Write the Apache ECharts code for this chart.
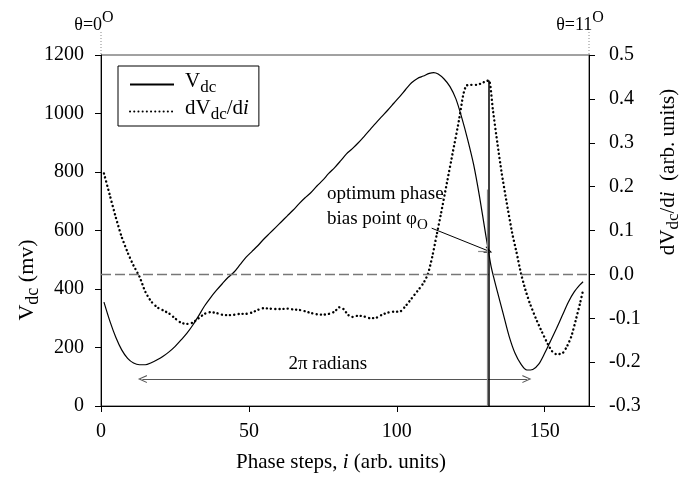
<!DOCTYPE html>
<html><head><meta charset="utf-8">
<script src="https://cdn.jsdelivr.net/npm/echarts@6/dist/echarts.min.js"></script>
<style>html,body{margin:0;padding:0;background:#fff}#c{width:680px;height:481px}</style>
</head><body><div id="c"></div>
<script>
// Phase step index and V_dc (mV)
const vdcX = [1,3,5,7,9,11,13,15,17,19,21,23,25,27,29,31,33,35,37,39,41,43,45,47,49,51,53,55,57,59,61,63,65,67,69,71,73,75,77,79,81,83,85,87,89,91,93,95,97,99,101,103,105,107,109,111,112.5,114,116,118,120,122,124,126,128,130,131,132,134,136,138,140,142,144,146,148,150,152,154,156,158,160,162,163];
const vdcY = [355,290,235,192,163,147,141,141,148,158,170,185,203,225,248,276,308,342,370,395,418,440,458,483,508,528,548,570,590,610,630,650,670,692,712,730,752,772,795,815,838,862,880,900,922,945,968,990,1012,1035,1058,1082,1105,1120,1128,1137,1140,1135,1118,1092,1050,985,910,825,715,590,530,472,392,315,238,180,143,123,125,143,180,222,265,310,355,390,415,425];
// Phase step index and dVdc/di (arb. units)
const dvX = [1,3,5,7,9,11,13,15,17,19,21,23,25,27,29,31,33,35,37,39,41,43,45,47,49,51,53,55,57,59,61,63,65,67,69,71,73,75,77,79,80.5,82,83.5,85,87,89,91,93,95,97,99,101,103,105,107,109,110.5,112,113.5,115,117,119,121,122.5,123.5,125,127,128.5,130,131.2,132.5,134,135.5,137,139,140.5,142,143.5,145,147,149,151,152.5,154,156,157.5,159,160.5,162,163];
const dvY = [0.23,0.18,0.13,0.085,0.05,0.02,-0.005,-0.04,-0.062,-0.075,-0.082,-0.089,-0.1,-0.11,-0.113,-0.11,-0.1,-0.09,-0.086,-0.088,-0.092,-0.093,-0.092,-0.09,-0.09,-0.087,-0.081,-0.077,-0.078,-0.079,-0.079,-0.078,-0.08,-0.081,-0.084,-0.088,-0.091,-0.092,-0.09,-0.085,-0.075,-0.079,-0.092,-0.097,-0.094,-0.096,-0.1,-0.099,-0.092,-0.087,-0.085,-0.085,-0.072,-0.055,-0.038,-0.02,0.0,0.04,0.09,0.14,0.21,0.28,0.35,0.41,0.43,0.432,0.432,0.435,0.44,0.442,0.375,0.3,0.23,0.17,0.095,0.05,0.002,-0.035,-0.066,-0.1,-0.13,-0.158,-0.175,-0.182,-0.18,-0.165,-0.142,-0.105,-0.065,-0.036];
const xTickLabels = [0, 50, 100, 150];
const leftTickLabels = [0, 200, 400, 600, 800, 1000, 1200];
const rightTickLabels = ['-0.3','-0.2','-0.1','0.0','0.1','0.2','0.3','0.4','0.5'];

const FONT = "'Liberation Serif','Times New Roman',serif";
const chevron = 'path://M0,10 L5,0 L10,10 L8.6,10 L5,2.8 L1.4,10 Z';
const chart = echarts.init(document.getElementById('c'), null, {renderer: 'canvas'});

const axisCommon = {
  axisLine: {show: true, onZero: false, lineStyle: {color: '#000', width: 1}},
  axisTick: {show: true, length: 6, lineStyle: {color: '#000', width: 1}},
  splitLine: {show: false}
};
const lblStyle = {fontSize: 20, color: '#000', fontFamily: FONT};

chart.setOption({
  animation: false,
  textStyle: {fontFamily: FONT},
  grid: {left: 101, right: 91, top: 55, bottom: 75, show: true, borderColor: '#444', borderWidth: 1},
  legend: {
    left: 118, top: 66, orient: 'vertical',
    borderColor: '#000', borderWidth: 1, borderRadius: 0,
    padding: [5, 10, 3, 11], itemGap: 2, itemWidth: 44, itemHeight: 12,
    itemStyle: {opacity: 0},
    data: ['Vdc', 'dVdc/di'],
    formatter: n => n === 'Vdc' ? '{p|V}{b|dc}' : '{p|dV}{b|dc}{a|/d}{i|i}',
    textStyle: {color: '#000', fontFamily: FONT, rich: {
      p: {fontSize: 21, fontFamily: FONT, padding: [0, 0, 6, 6]},
      a: {fontSize: 21, fontFamily: FONT, padding: [0, 0, 6, 0]},
      b: {fontSize: 17, fontFamily: FONT, padding: [6, 0, 0, 0]},
      i: {fontSize: 21, fontFamily: FONT, fontStyle: 'italic', padding: [0, 0, 6, 0]}
    }}
  },
  xAxis: Object.assign({
    type: 'value', min: 0, max: 165, interval: 50,
    axisLabel: Object.assign({margin: 16, showMaxLabel: false,
      formatter: v => xTickLabels.includes(v) ? String(v) : ''}, lblStyle)
  }, axisCommon),
  yAxis: [
    Object.assign({type: 'value', min: 0, max: 1200, interval: 200, position: 'left',
      axisLabel: Object.assign({margin: 17, formatter: v => leftTickLabels.includes(v) ? String(v) : ''}, lblStyle)}, axisCommon),
    Object.assign({type: 'value', min: -0.3, max: 0.5, interval: 0.1, position: 'right',
      axisLabel: Object.assign({margin: 20, formatter: v => {
        const s = (Math.round(v * 10) / 10).toFixed(1);
        return rightTickLabels.includes(s) ? s : '';
      }}, lblStyle)}, axisCommon)
  ],
  series: [
    {
      name: 'Vdc', type: 'line', yAxisIndex: 0, symbol: 'none', smooth: 0.3,
      data: vdcX.map((x, k) => [x, vdcY[k]]),
      lineStyle: {color: '#000', width: 1.2}, itemStyle: {color: '#000'},
      markLine: {
        silent: true, animation: false, symbol: ['none', 'none'], label: {show: false},
        data: [
          [{coord: [14, 92], symbol: chevron, symbolSize: [8, 9], lineStyle: {color: '#555', width: 1.2, type: 'solid'}},
           {coord: [144, 92], symbol: chevron, symbolSize: [8, 9]}],
          [{coord: [111.8, 608], symbol: 'none', lineStyle: {color: '#000', width: 1, type: 'solid'}},
           {coord: [131, 530], symbol: chevron, symbolSize: [7, 8]}],
          [{coord: [130.5, 0], lineStyle: {color: '#888', width: 1.2, type: 'solid'}}, {coord: [130.5, 740]}],
          [{coord: [127.5, 530], lineStyle: {color: '#888', width: 1.2, type: 'solid'}}, {coord: [131, 530]}]
        ]
      }
    },
    {
      name: 'dVdc/di', type: 'line', yAxisIndex: 1, symbol: 'none', smooth: 0.2,
      data: dvX.map((x, k) => [x, dvY[k]]),
      lineStyle: {color: '#000', width: 2.4, type: [0.1, 4.1], cap: 'round'}, itemStyle: {color: '#000'},
      markLine: {
        silent: true, animation: false, symbol: ['none', 'none'], label: {show: false},
        data: [
          {yAxis: 0, lineStyle: {color: '#777', width: 1.3, type: [10, 4]}},
          [{coord: [131.2, -0.3], lineStyle: {color: '#000', width: 1.5, type: 'solid'}}, {coord: [131.2, 0.442]}]
        ]
      }
    }
  ]
});

const P = (x, y) => chart.convertToPixel({xAxisIndex: 0, yAxisIndex: 0}, [x, y]);
const mk = (fs) => ({
  a: {fontSize: fs, fontFamily: FONT, fill: '#000', padding: [0, 0, 6, 0]},
  b: {fontSize: Math.round(fs * 0.8), fontFamily: FONT, fill: '#000', padding: [6, 0, 0, 0]},
  i: {fontSize: fs, fontFamily: FONT, fill: '#000', fontStyle: 'italic', padding: [0, 0, 6, 0]}
});
const rich = Object.assign(mk(20), {
  t: {fontSize: 18, fontFamily: FONT, fill: '#000', padding: [6, 0, 0, 0]},
  s: {fontSize: 16, fontFamily: FONT, fill: '#000', padding: [0, 0, 8, 0]},
  n: {fontSize: 19, fontFamily: FONT, fill: '#000', padding: [0, 0, 6, 0]},
  o: {fontSize: 15, fontFamily: FONT, fill: '#000', padding: [6, 0, 0, 0]}
});
const x0 = P(0, 0), x165 = P(165, 1200);
const gridTop = x165[1];
const pOpt = P(76.4, 714), pBias = P(76.4, 629), p2pi = P(76.7, 134);
const gText = (x, y, text, r, extra) => Object.assign({type: 'text', x, y, silent: true,
  style: {text, rich: r || rich, align: 'center', verticalAlign: 'middle', fill: '#000', fontFamily: FONT, fontSize: 20}}, extra || {});
chart.setOption({
  graphic: [
    gText(30, 280, '{a|V}{b|dc}{a| (mv)}', mk(22), {rotation: Math.PI / 2}),
    gText(671, 172, '{a|dV}{b|dc}{a|/d}{i|i}{a|  (arb. units)}', mk(21), {rotation: Math.PI / 2}),
    gText(341, 465, '{a|Phase steps, }{i|i}{a| (arb. units)}', mk(21)),
    gText(x0[0] - 7, 22, '{t|θ=0}{s|O}'),
    gText(x165[0] - 9, 22, '{t|θ=11}{s|O}'),
    {type: 'line', silent: true, shape: {x1: x0[0], y1: 32, x2: x0[0], y2: gridTop}, style: {stroke: '#888', lineWidth: 1, lineDash: [1, 2]}},
    {type: 'line', silent: true, shape: {x1: x165[0], y1: 32, x2: x165[0], y2: gridTop}, style: {stroke: '#888', lineWidth: 1, lineDash: [1, 2]}},
    {type: 'text', x: pOpt[0], y: pOpt[1], silent: true, style: {text: '{n|optimum phase}', rich, align: 'left', verticalAlign: 'middle'}},
    {type: 'text', x: pBias[0], y: pBias[1], silent: true, style: {text: '{n|bias point φ}{o|O}', rich, align: 'left', verticalAlign: 'middle'}},
    gText(p2pi[0], p2pi[1], '{n|2π radians}')
  ]
});
</script>
</body></html>
